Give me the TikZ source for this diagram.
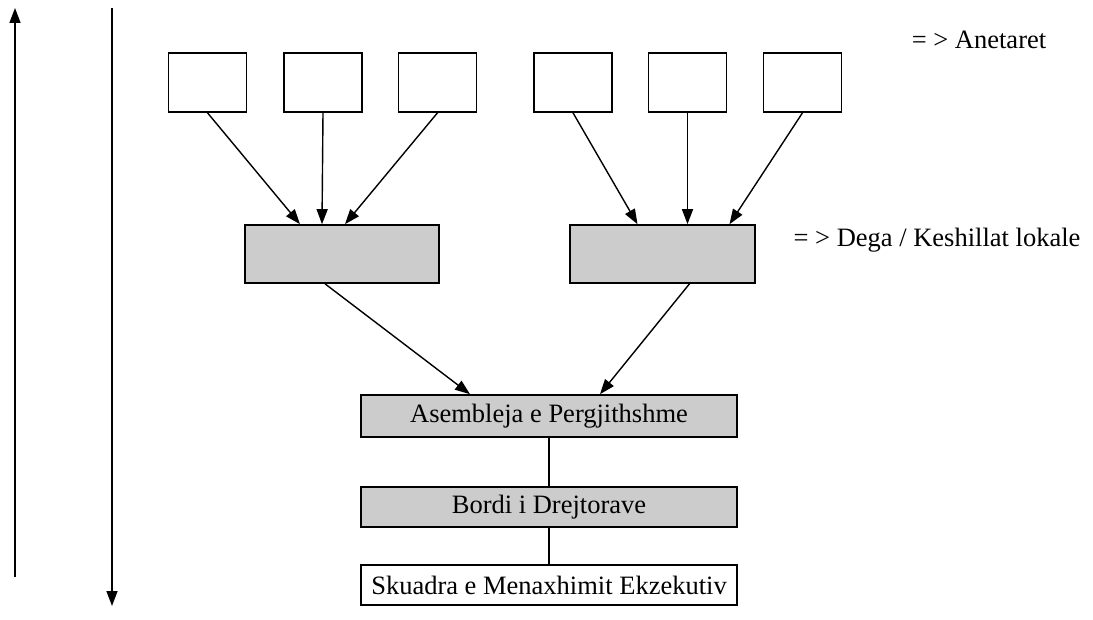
\documentclass[tikz,border=0pt]{standalone}
\usepackage{fontspec}
\setmainfont{Liberation Serif}
\usetikzlibrary{arrows.meta}
\tikzset{
  membox/.style={draw, line width=1.6pt, minimum width=78pt, minimum height=59pt, inner sep=0pt},
  degabox/.style={draw, line width=1.6pt, fill=black!20, minimum height=58pt, inner sep=0pt},
  orgbox/.style={draw, line width=1.6pt, minimum width=376pt, inner sep=0pt},
  conn/.style={-{Triangle[length=15pt,width=11pt]}, line width=1.4pt},
}
\begin{document}
\begin{tikzpicture}[x=1pt, y=-1pt, font=\fontsize{26.5}{31}\selectfont]
        \useasboundingbox (0,0) rectangle (1093,620);

        % Anetaret
        \node[membox] (m1) at (207.5, 82.5) {};
        \node[membox] (m2) at (323, 82.5) {};
        \node[membox] (m3) at (437.5, 82.5) {};
        \node[membox] (m4) at (573, 82.5) {};
        \node[membox] (m5) at (687.5, 82.5) {};
        \node[membox] (m6) at (802.5, 82.5) {};
        \node (lblmem) at (979, 40) {= > Anetaret};

        % Dega / Keshillat lokale
        \node[degabox, minimum width=194pt] (dega1) at (342, 254) {};
        \node[degabox, minimum width=185pt] (dega2) at (662.5, 254) {};
        \node (lbldega) at (937, 240) {= > Dega / Keshillat lokale};

        % Organet qendrore
        \node[orgbox, fill=black!20, minimum height=42pt] (asemb) at (549, 416) {Asembleja e Pergjithshme};
        \node[orgbox, fill=black!20, minimum height=40pt] (bordi) at (549, 507) {Bordi i Drejtorave};
        \node[orgbox, minimum height=40pt] (skuadra) at (549, 585) {Skuadra e Menaxhimit Ekzekutiv};

        \draw[conn] (m1.south) -- ([xshift=-42pt]dega1.north);
        \draw[conn] (m2.south) -- ([xshift=-20pt]dega1.north);
        \draw[conn] (m3.south) -- ([xshift=3pt]dega1.north);
        \draw[conn] (m4.south) -- ([xshift=-25pt]dega2.north);
        \draw[conn] (m5.south) -- ([xshift=25pt]dega2.north);
        \draw[conn] (m6.south) -- ([xshift=67pt]dega2.north);

        \draw[conn] ([xshift=-17pt]dega1.south) -- ([xshift=-79pt]asemb.north);
        \draw[conn] ([xshift=27pt]dega2.south) -- ([xshift=51pt]asemb.north);

        \draw[line width=1.1pt] (asemb) -- (bordi);
        \draw[line width=1.1pt] (bordi) -- (skuadra);

        % shigjetat anesore
        \coordinate (upbot) at (15, 577);
        \coordinate (uptop) at (15, 8);
        \coordinate (dntop) at (112, 8);
        \coordinate (dnbot) at (112, 606);
        \draw[conn] (upbot) -- (uptop);
        \draw[conn] (dntop) -- (dnbot);

    \end{tikzpicture}
\end{document}
